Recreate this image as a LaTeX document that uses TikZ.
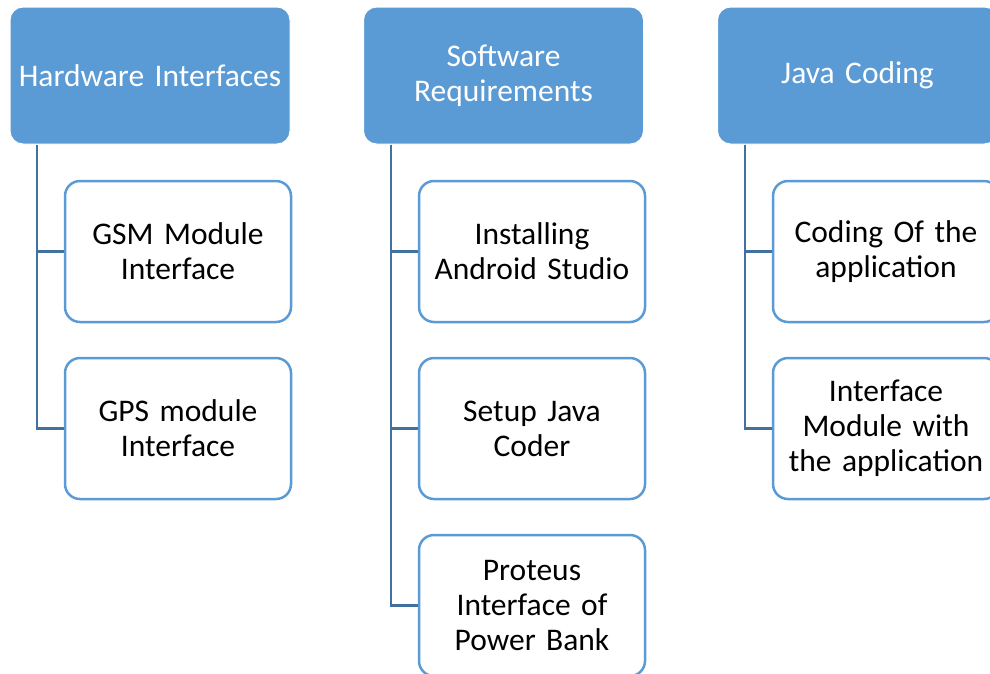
\documentclass[tikz,border=0pt]{standalone}
\usepackage{fontspec}
\setmainfont{Carlito}[WordSpace={0.85}]
\definecolor{boxblue}{HTML}{5B9BD5}
\definecolor{linkblue}{HTML}{41719C}
\begin{document}
\begin{tikzpicture}[x=1pt,y=-1pt,
  headbox/.style={rectangle, rounded corners=13pt, fill=boxblue, draw=white, line width=1pt,
    minimum width=280pt, minimum height=137pt, text width=275pt, align=center,
    text=white, font=\fontsize{31.5}{35}\selectfont, inner sep=0pt},
  itembox/.style={rectangle, rounded corners=15pt, fill=white, draw=boxblue, line width=2.5pt,
    minimum width=226pt, minimum height=141pt, text width=222pt, align=center,
    text=black, font=\fontsize{31.5}{35}\selectfont, inner sep=0pt},
  link/.style={draw=linkblue, line width=2.5pt}]
\useasboundingbox (0,0) rectangle (990,673);
\clip (0,0) rectangle (990,673);

% column heads
\node[headbox] (h1) at (150,75.5) {Hardware Interfaces};
\node[headbox] (h2) at (503.5,75.5) {Software\\Requirements};
\node[headbox] (h3) at (857.5,75.5) {Java Coding};

% items under each head
\node[itembox] (a1) at (178,251.5) {GSM Module\\Interface};
\node[itembox] (a2) at (178,428.5) {GPS module\\Interface};

\node[itembox] (b1) at (532,251.5) {Installing\\Android Studio};
\node[itembox] (b2) at (532,428.5) {Setup Java\\Coder};
\node[itembox] (b3) at (532,605.5) {Proteus\\Interface of\\Power Bank};

\node[itembox] (c1) at (886,251.5) {Coding Of the\\application};
\node[itembox] (c2) at (886,428.5) {Interface\\Module with\\the application};

% tree connectors
\coordinate (s1) at ([xshift=-113pt]h1.south);
\coordinate (s2) at ([xshift=-112.5pt]h2.south);
\coordinate (s3) at ([xshift=-112.5pt]h3.south);

\draw[link] (s1) |- (a1.west);
\draw[link] (s1) |- (a2.west);
\draw[link] (s2) |- (b1.west);
\draw[link] (s2) |- (b2.west);
\draw[link] (s2) |- (b3.west);
\draw[link] (s3) |- (c1.west);
\draw[link] (s3) |- (c2.west);
\end{tikzpicture}
\end{document}
